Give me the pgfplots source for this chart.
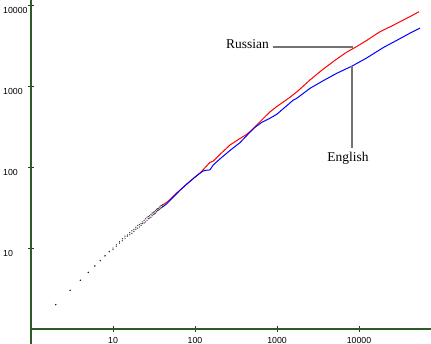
\documentclass[border=0pt]{standalone}
\usepackage{pgfplots}
\pgfplotsset{compat=1.18}
\usepackage{fontspec}
\setmainfont{Liberation Serif}
\newfontfamily\arial{Liberation Sans}
\definecolor{axgreen}{HTML}{2F5A2A}
\begin{document}
\begin{tikzpicture}[x=1bp,y=1bp]
\useasboundingbox (-31,-15) rectangle (400,329);
\begin{axis}[
  at={(0,0)}, anchor=south west,
  scale only axis, width=400bp, height=329bp,
  xmode=log, ymode=log,
  xmin=1, xmax=75500, ymin=1, ymax=11530,
  axis x line*=bottom, axis y line*=left,
  axis line style={axgreen, line width=1.8bp, -},
  xtick={10,100,1000,10000}, ytick={10,100,1000,10000},
  xticklabels={10,100,1000,10000}, yticklabels={10,100,1000,10000},
  xminorticks=false, yminorticks=false,
  tick align=center, major tick length=6bp,
  tick style={black!80, line width=0.8bp},
  xticklabel style={font=\arial\fontsize{8.8}{9}\selectfont, anchor=center, inner sep=0pt, yshift=-8bp},
  yticklabel style={font=\arial\fontsize{8.8}{9}\selectfont, anchor=west, inner sep=0pt, xshift=-25bp, yshift=-5bp},
  clip=false,
]
% early points (Russian)
\addplot[only marks, mark=*, mark size=0.45bp, mark options={draw=none, fill=red!75!blue}, opacity=0.6] coordinates {
(2,2)(3,3)(4,4)(5,5)(6,6)(7,7)(8,8)(9,9)(10,10)(11,11)(12,12)(13,13)(14,14)(15,14.5)(16,15.5)(17,16.3)(18,17)(19,18)(20,19)(21,19.5)(22,20)(23,21)(24,22)(25,23)(26,24)(27,24.5)(28,25)(29,26)(30,27)(31,27.5)(32,28)(33,29)(34,30)(35,30.5)(36,31)(37,32)(38,33)(39,33.5)(40,34)
};
% early points (English)
\addplot[only marks, mark=*, mark size=0.45bp, mark options={draw=none, fill=blue!75!red}, opacity=0.6] coordinates {
(2,2)(3,3)(4,4)(5,5)(6,6)(7,7)(8,8)(9,9)(10,9.6)(11,10.5)(12,11.5)(13,12.3)(14,13.2)(15,14)(16,14.6)(17,15.2)(18,16)(19,17)(20,17.6)(21,18.2)(22,19)(23,20)(24,20.4)(25,21)(26,22)(27,23)(28,23.4)(29,24)(30,25)(31,26)(32,26.4)(33,27)(34,28)(35,29)(36,29.4)(37,30)(38,31)(39,31.4)(40,32)
};
% Russian
\addplot[red, line width=1bp] coordinates {
(40,34)(45,36.5)(50,40)(60,48)(66,52)(80,62)(100,75)(115,84)(135,100)(152,114)(167,118)(200,142)(267,187)(354,225)(420,250)(493,286)(650,380)(822,480)(1000,560)(1450,730)(1800,870)(2520,1186)(3500,1560)(5000,2050)(7000,2600)(9000,3000)(12400,3650)(18000,4680)(25000,5500)(31500,6200)(42000,7200)(54000,8270)
};
% English
\addplot[blue, line width=1bp] coordinates {
(40,32)(45,35)(50,39)(60,47)(66,52)(80,62)(100,75)(115,84)(125,89)(135,91)(152,92)(167,106)(200,125)(267,160)(354,200)(450,258)(540,310)(650,355)(822,400)(1000,450)(1580,670)(1740,705)(2520,935)(3700,1170)(5350,1435)(8260,1766)(12400,2220)(20000,3000)(31500,3840)(42000,4500)(55600,5200)
};
\draw[axgreen, line width=1.8bp] (rel axis cs:0,0) -- ([yshift=-15bp]rel axis cs:0,0);
\draw[black!55, line width=1.2bp] (axis cs:894,3030) -- (axis cs:8450,3030);
\node[anchor=east, inner sep=0pt, xshift=-4bp, yshift=3bp, font=\fontsize{13.5}{15}\selectfont] at (axis cs:894,3030) {Russian};
\draw[black!55, line width=1.2bp] (axis cs:8220,1766) -- (axis cs:8220,172);
\node[inner sep=0pt, font=\fontsize{13.5}{15}\selectfont] at (axis cs:7340,129) {English};
\end{axis}
\end{tikzpicture}
\end{document}
